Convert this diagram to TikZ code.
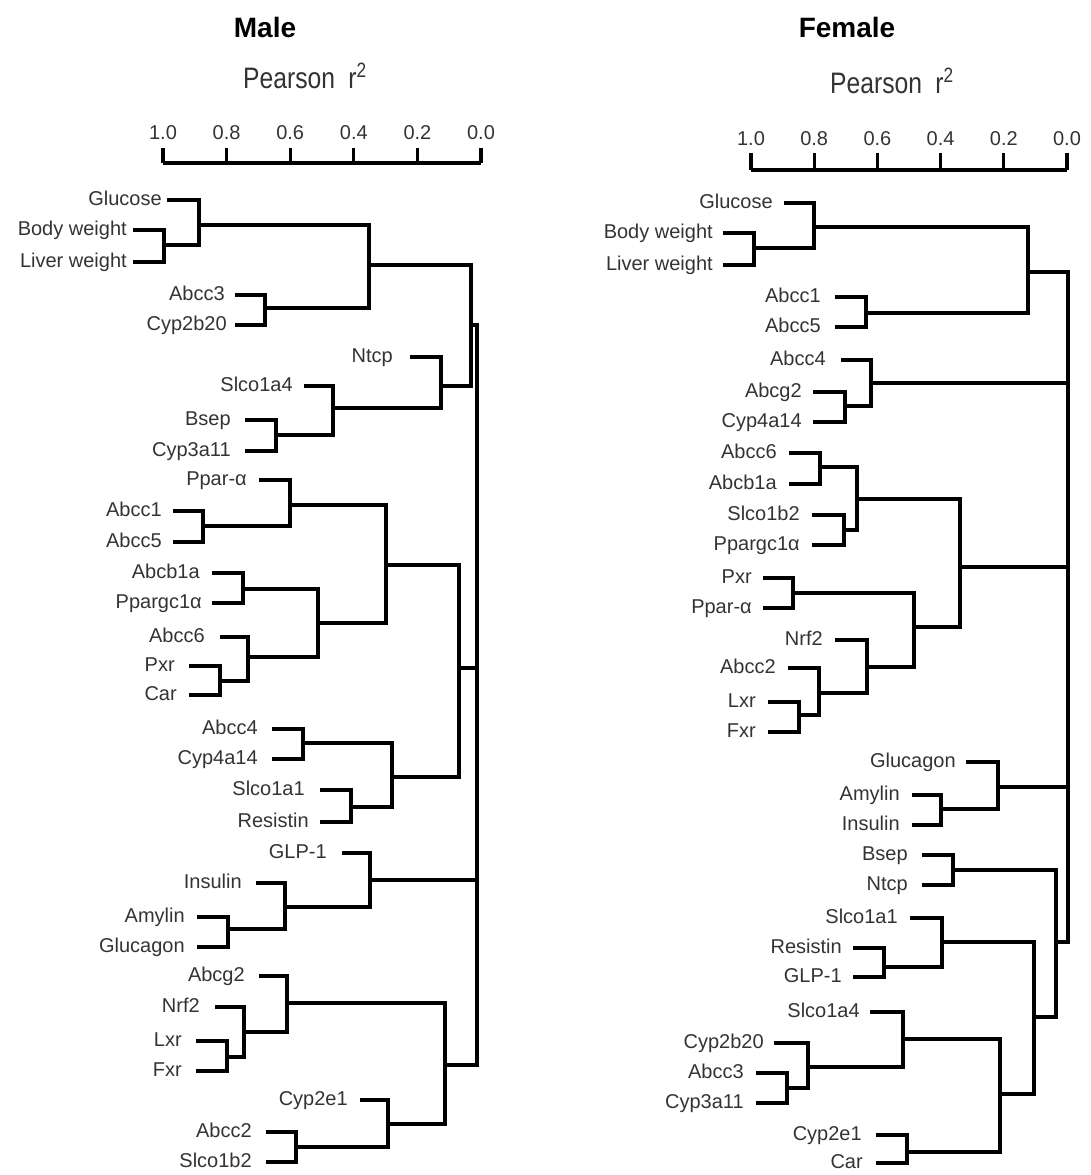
\documentclass[tikz,border=0pt]{standalone}
\usepackage{fontspec}
\setmainfont{Liberation Sans}
\definecolor{txt}{HTML}{333333}
\tikzset{
  lab/.style={anchor=base east, inner sep=0pt, text=txt, font=\fontsize{15}{18}\selectfont},
  tick/.style={anchor=base, inner sep=0pt, text=txt, font=\fontsize{15}{18}\selectfont},
  ttl/.style={anchor=base, inner sep=0pt, text=black, font=\fontsize{21}{25}\selectfont\bfseries},
  pear/.style={anchor=base, inner sep=0pt, text=txt, font=\fontsize{18.5}{22}\selectfont},
  br/.style={line width=2.3pt, line join=miter, black},
  ax/.style={line width=2.3pt, line join=miter, black}
}
\newcommand{\lf}[5][12]{\coordinate (#2) at (#3,#4); \node[lab] (#2t) at (#3-#1,#4+5) {#5};}
\newcommand{\jn}[5]{\coordinate (#1) at (#2,#3); \draw[br] (#4) -| (#1) |- (#5);}
\begin{document}
\begin{tikzpicture}[x=0.75pt,y=-0.75pt]
\useasboundingbox (0,0) rectangle (1090,1175);
% ---------------- MALE ----------------
\node[ttl] (mTitle) at (265,37) {Male};
\node[pear] (mPear) at (305,88) {\scalebox{1}[1.2]{Pearson\hspace{10pt}r\textsuperscript{2}}};
\coordinate (mAx0) at (163,163);
\coordinate (mAx1) at (481,163);
\draw[ax] (mAx0) -- (mAx1);
\foreach \i/\l in {0/1.0,1/0.8,2/0.6,3/0.4,4/0.2,5/0.0}{
  \draw[ax] (163+\i*63.6,163) -- (163+\i*63.6,148);
  \node[tick] (mT\i) at (163+\i*63.6,139) {\l};
}
\lf[5]{mGlu}{167}{200}{Glucose}
\lf[6]{mBw}{133}{230}{Body weight}
\lf[6]{mLw}{133}{262}{Liver weight}
\lf[10]{mA3}{235}{295}{Abcc3}
\lf[8]{mC2b}{235}{325}{Cyp2b20}
\lf[17]{mNt}{410}{357}{Ntcp}
\lf[11]{mS4}{304}{386}{Slco1a4}
\lf[14]{mBs}{245}{420}{Bsep}
\lf[14]{mC3a}{245}{451}{Cyp3a11}
\lf[12]{mPp}{259}{480}{Ppar-α}
\lf[11]{mA1}{173}{511}{Abcc1}
\lf[11]{mA5}{173}{542}{Abcc5}
\lf[12]{mAb}{212}{573}{Abcb1a}
\lf[10]{mPg}{212}{603}{Ppargc1α}
\lf[15]{mA6}{220}{637}{Abcc6}
\lf[14]{mPx}{189}{666}{Pxr}
\lf[12]{mCa}{189}{695}{Car}
\lf[14]{mA4}{272}{729}{Abcc4}
\lf[14]{mC4}{272}{759}{Cyp4a14}
\lf[15]{mS1}{320}{790}{Slco1a1}
\lf[11]{mRe}{320}{822}{Resistin}
\lf[15]{mGl}{342}{853}{GLP-1}
\lf[14]{mIn}{256}{883}{Insulin}
\lf[12]{mAm}{197}{917}{Amylin}
\lf[12]{mGn}{197}{947}{Glucagon}
\lf[14]{mAg}{259}{976}{Abcg2}
\lf[15]{mNr}{215}{1007}{Nrf2}
\lf[14]{mLx}{196}{1041}{Lxr}
\lf[14]{mFx}{196}{1071}{Fxr}
\lf[12]{mCe}{360}{1100}{Cyp2e1}
\lf[14]{mA2}{266}{1132}{Abcc2}
\lf[14]{mSb}{266}{1162}{Slco1b2}
\jn{m1}{164}{245}{mBw}{mLw}
\jn{m2}{199}{225}{mGlu}{m1}
\jn{m3}{265}{308}{mA3}{mC2b}
\jn{m4}{369}{265}{m2}{m3}
\jn{m5}{276}{435}{mBs}{mC3a}
\jn{m6}{333}{408}{mS4}{m5}
\jn{m7}{441}{386}{mNt}{m6}
\jn{m8}{471}{325}{m4}{m7}
\jn{m9}{203}{526}{mA1}{mA5}
\jn{m10}{290}{505}{mPp}{m9}
\jn{m11}{243}{589}{mAb}{mPg}
\jn{m12}{220}{681}{mPx}{mCa}
\jn{m13}{248}{657}{mA6}{m12}
\jn{m14}{318}{623}{m11}{m13}
\jn{m15}{386}{565}{m10}{m14}
\jn{m16}{303}{743}{mA4}{mC4}
\jn{m17}{351}{807}{mS1}{mRe}
\jn{m18}{392}{777}{m16}{m17}
\jn{m19}{459}{668}{m15}{m18}
\jn{m20}{228}{929}{mAm}{mGn}
\jn{m21}{285}{907}{mIn}{m20}
\jn{m22}{370}{880}{mGl}{m21}
\jn{m23}{227}{1057}{mLx}{mFx}
\jn{m24}{244}{1032}{mNr}{m23}
\jn{m25}{287}{1003}{mAg}{m24}
\jn{m26}{296}{1147}{mA2}{mSb}
\jn{m27}{388}{1124}{mCe}{m26}
\jn{m28}{445}{1065}{m25}{m27}
\jn{mRoot}{477}{700}{m8}{m28}
\draw[br] (m19) -- (m19 -| mRoot);
\draw[br] (m22) -- (m22 -| mRoot);
% ---------------- FEMALE ----------------
\node[ttl] (fTitle) at (847,37) {Female};
\node[pear] (fPear) at (892,93) {\scalebox{1}[1.2]{Pearson\hspace{10pt}r\textsuperscript{2}}};
\coordinate (fAx0) at (751,170);
\coordinate (fAx1) at (1067,170);
\draw[ax] (fAx0) -- (fAx1);
\foreach \i/\l in {0/1.0,1/0.8,2/0.6,3/0.4,4/0.2,5/0.0}{
  \draw[ax] (751+\i*63.2,170) -- (751+\i*63.2,153);
  \node[tick] (fT\i) at (751+\i*63.2,145) {\l};
}
\lf[11]{fGlu}{784}{203}{Glucose}
\lf[10]{fBw}{723}{233}{Body weight}
\lf[10]{fLw}{723}{265}{Liver weight}
\lf[14]{fA1}{835}{297}{Abcc1}
\lf[14]{fA5}{835}{327}{Abcc5}
\lf[15]{fA4}{841}{360}{Abcc4}
\lf[11]{fAg}{813}{392}{Abcg2}
\lf[11]{fC4}{813}{422}{Cyp4a14}
\lf[12]{fA6}{789}{453}{Abcc6}
\lf[12]{fAb}{789}{484}{Abcb1a}
\lf[12]{fSb}{812}{515}{Slco1b2}
\lf[12]{fPg}{812}{545}{Ppargc1α}
\lf[11]{fPx}{763}{578}{Pxr}
\lf[11]{fPp}{763}{608}{Ppar-α}
\lf[12]{fNr}{835}{640}{Nrf2}
\lf[12]{fA2}{788}{668}{Abcc2}
\lf[12]{fLx}{768}{702}{Lxr}
\lf[12]{fFx}{768}{732}{Fxr}
\lf[10]{fGn}{966}{762}{Glucagon}
\lf[12]{fAm}{912}{795}{Amylin}
\lf[12]{fIn}{912}{825}{Insulin}
\lf[14]{fBs}{922}{855}{Bsep}
\lf[14]{fNt}{922}{885}{Ntcp}
\lf[12]{fS1}{910}{918}{Slco1a1}
\lf[11]{fRe}{853}{948}{Resistin}
\lf[11]{fGl}{853}{977}{GLP-1}
\lf[10]{fS4}{870}{1012}{Slco1a4}
\lf[10]{fC2b}{774}{1043}{Cyp2b20}
\lf[12]{fA3}{756}{1073}{Abcc3}
\lf[12]{fC3a}{756}{1103}{Cyp3a11}
\lf[14]{fCe}{876}{1135}{Cyp2e1}
\lf[13]{fCa}{876}{1163}{Car}
\jn{f1}{754}{248}{fBw}{fLw}
\jn{f2}{814}{227}{fGlu}{f1}
\jn{f3}{866}{313}{fA1}{fA5}
\jn{f4}{1028}{272}{f2}{f3}
\jn{f5}{845}{406}{fAg}{fC4}
\jn{f6}{871}{383}{fA4}{f5}
\jn{f7}{820}{467}{fA6}{fAb}
\jn{f8}{844}{530}{fSb}{fPg}
\jn{f9}{857}{499}{f7}{f8}
\jn{f10}{793}{593}{fPx}{fPp}
\jn{f11}{799}{715}{fLx}{fFx}
\jn{f12}{819}{693}{fA2}{f11}
\jn{f13}{867}{667}{fNr}{f12}
\jn{f14}{914}{627}{f10}{f13}
\jn{f15}{960}{567}{f9}{f14}
\jn{f16}{941}{809}{fAm}{fIn}
\jn{f17}{998}{787}{fGn}{f16}
\jn{f18}{953}{870}{fBs}{fNt}
\jn{f19}{884}{967}{fRe}{fGl}
\jn{f20}{942}{942}{fS1}{f19}
\jn{f21}{787}{1088}{fA3}{fC3a}
\jn{f22}{808}{1067}{fC2b}{f21}
\jn{f23}{903}{1039}{fS4}{f22}
\jn{f24}{907}{1152}{fCe}{fCa}
\jn{f25}{1000}{1094}{f23}{f24}
\jn{f26}{1034}{1017}{f20}{f25}
\jn{f27}{1056}{942}{f18}{f26}
\jn{fRoot}{1068}{600}{f4}{f27}
\draw[br] (f6) -- (f6 -| fRoot);
\draw[br] (f15) -- (f15 -| fRoot);
\draw[br] (f17) -- (f17 -| fRoot);
\end{tikzpicture}
\end{document}
